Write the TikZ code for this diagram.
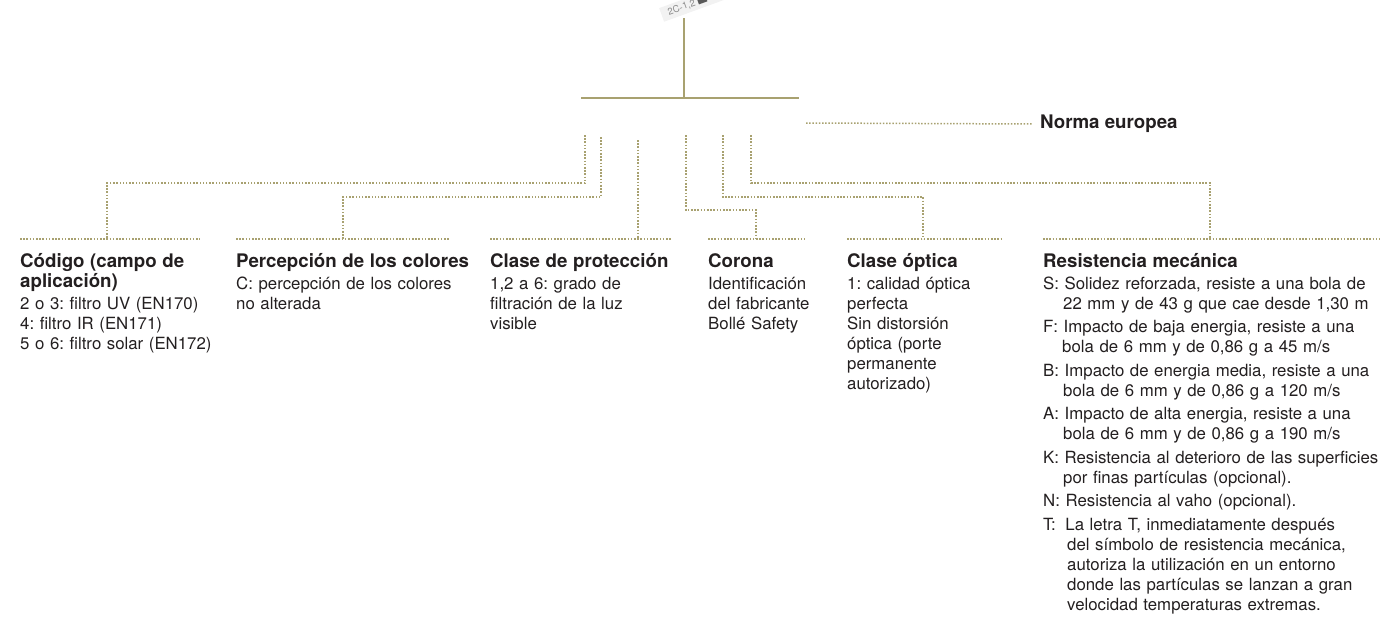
\documentclass[tikz,border=0pt]{standalone}
\usepackage{fontspec}
\setmainfont{TeX Gyre Heros}
\usepackage{xcolor}
\usetikzlibrary{positioning,calc}
\definecolor{oliva}{RGB}{168,161,112}
\definecolor{tinta}{RGB}{35,31,32}
\newcommand{\encab}{\fontsize{18.7}{20}\selectfont\bfseries}
\newcommand{\cuerpo}{\fontsize{16.8}{20}\selectfont\frenchspacing}
\tikzstyle{raya}=[draw=oliva,line width=1.5pt,dash pattern=on 1.5pt off 1.7pt]
\tikzstyle{filete}=[draw=oliva,line width=2pt]
\tikzstyle{bloque}=[anchor=base west,inner sep=0pt,align=left,text=tinta,font=\cuerpo]
\tikzstyle{etiqueta}=[rotate=20,fill=black!5,text=black!45,inner sep=3pt,
  text width=104pt,font=\fontsize{9.5}{10}\selectfont,align=left]

\begin{document}
\begin{tikzpicture}[x=1pt,y=-1pt]
  \useasboundingbox (0,0) rectangle (1385,632);
  \clip (0,0) rectangle (1385,632);
  \node[etiqueta,anchor=south west] (sello) at (664,22)
    {\hspace{4pt}2C-1,2 \textcolor{black!65}{\rule{9pt}{5pt}}};
  \coordinate (cima) at (684,18);
  \coordinate (cruce) at (684,98);
  \draw[filete] (cima) -- (cruce);
  \draw[filete] (581,98) -- (799,98);
  \node[text=tinta,font=\encab,inner sep=0pt,anchor=west] (norma) at (1040,124) {Norma europea};
  \draw[raya] (806,123) -- ([xshift=-7pt]norma.west);

  \foreach \x/\y/\n in {585/135/1,601/137/2,638/140/3,686/135/4,723/135/5,751/135/6}
    \coordinate (b\n) at (\x,\y);
  \foreach \x/\n in {107/1,343/2,638/3,756/4,923/5,1210/6}
    \coordinate (e\n) at (\x,239);

  \node[bloque,text width=220pt] (codigo) at (20,267)
    {{\encab Código (campo de\\aplicación)\par}\vspace{2pt}
     2 o 3: filtro UV (EN170)\\4: filtro IR (EN171)\\5 o 6: filtro solar (EN172)};
  \node[bloque,text width=250pt] (percepcion) at (236,267)
    {{\encab Percepción de los colores\par}\vspace{2pt}
     C: percepción de los colores\\no alterada};
  \node[bloque,text width=220pt] (proteccion) at (490,267)
    {{\encab Clase de protección\par}\vspace{2pt}
     1,2 a 6: grado de\\filtración de la luz\\visible};
  \node[bloque,text width=130pt] (corona) at (708,267)
    {{\encab Corona\par}\vspace{2pt}
     Identificación\\del fabricante\\Bollé Safety};
  \node[bloque,text width=170pt] (optica) at (847,267)
    {{\encab Clase óptica\par}\vspace{2pt}
     1: calidad óptica\\perfecta\\Sin distorsión\\óptica (porte\\permanente\\autorizado)};
  \node[bloque,text width=345pt] (resistencia) at (1043,267)
    {{\encab Resistencia mecánica\par}\vspace{2pt}
     \hangindent=20pt\hangafter=1 S: Solidez reforzada, resiste a una bola de\newline 22 mm y de 43 g que cae desde 1,30 m\par\vspace{3.5pt}
     \hangindent=19pt\hangafter=1 F: Impacto de baja energia, resiste a una\newline bola de 6 mm y de 0,86 g a 45 m/s\par\vspace{3.5pt}
     \hangindent=20pt\hangafter=1 B: Impacto de energia media, resiste a una\newline bola de 6 mm y de 0,86 g a 120 m/s\par\vspace{3.5pt}
     \hangindent=20pt\hangafter=1 A: Impacto de alta energia, resiste a una\newline bola de 6 mm y de 0,86 g a 190 m/s\par\vspace{3.5pt}
     \hangindent=20pt\hangafter=1 K: Resistencia al deterioro de las superficies\newline por finas partículas (opcional).\par\vspace{3.5pt}
     N: Resistencia al vaho (opcional).\par\vspace{3.5pt}
     \hangindent=24pt\hangafter=1 T:\hspace{4pt} La letra T, inmediatamente después\newline del símbolo de resistencia mecánica,\newline autoriza la utilización en un entorno\newline donde las partículas se lanzan a gran\newline velocidad temperaturas extremas.\par};

  \draw[raya] (codigo.west |- e1) -- ++(180,0);
  \draw[raya] (percepcion.west |- e2) -- ++(214,0);
  \draw[raya] (proteccion.west |- e3) -- ++(182,0);
  \draw[raya] (corona.west |- e4) -- ++(97,0);
  \draw[raya] (optica.west |- e5) -- ++(155,0);
  \draw[raya] (resistencia.west |- e6) -- ++(337,0);

  \foreach \n/\d in {1/48,2/60,4/75,5/62,6/48}
    \draw[raya] (b\n) -- ++(0,\d) -| (e\n);
  \draw[raya] (b3) -- (e3);
\end{tikzpicture}
\end{document}
